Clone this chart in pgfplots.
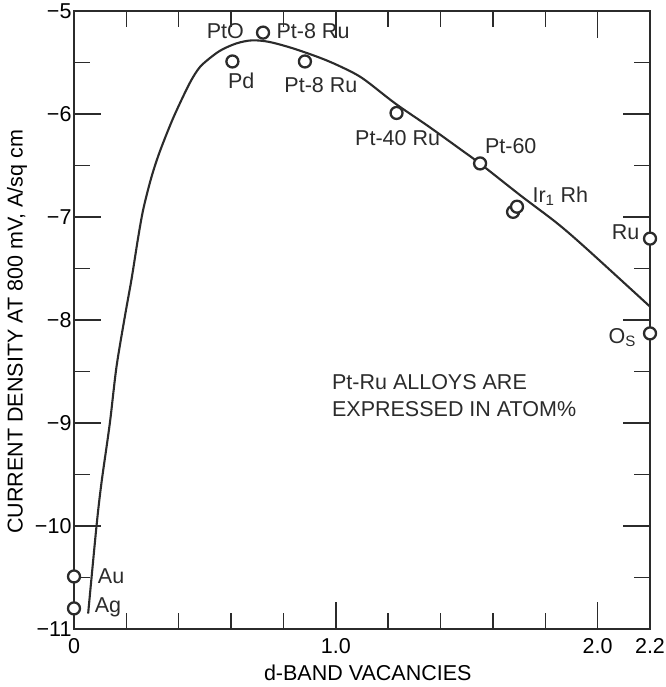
\documentclass[border=0pt]{standalone}
\usepackage{fontspec}
\setmainfont{Liberation Sans}
\usepackage{pgfplots}
\pgfplotsset{compat=1.18}
\definecolor{ink}{HTML}{2B2B2B}

\begin{document}
\begin{tikzpicture}[font=\fontsize{21.5}{27}\selectfont]
\path[use as bounding box] (-74pt,-58pt) rectangle (591pt,629pt);
\begin{axis}[
  at={(0,0)}, anchor=south west,
  scale only axis, width=576pt, height=618pt,
  xmin=0, xmax=2.2, ymin=-11, ymax=-5,
  clip=false,
  axis line style={ink, line width=1.5pt},
  every tick/.style={ink, line width=1.5pt},
  tick align=inside,
  xtick pos=both, ytick pos=both,
  major tick length=27pt, minor tick length=16pt,
  xtick={0,1,2,2.2},
  xticklabels={0,1.0,2.0,2.2},
  minor xtick={0.2,0.4,0.6,0.8,1.2,1.4,1.6,1.8},
  ytick={-11,-10,-9,-8,-7,-6,-5},
  yticklabels={−11,−10,−9,−8,−7,−6,−5},
  minor ytick={-10.5,-9.5,-8.5,-7.5,-6.5,-5.5},
  xticklabel style={yshift=-6pt},
  yticklabel style={xshift=1pt},
  xlabel={d-BAND VACANCIES},
  ylabel={CURRENT DENSITY AT 800 mV, A/sq cm},
  xlabel style={at={(axis description cs:0.51,-0.0712)}, anchor=center},
  ylabel style={at={(axis description cs:-0.0990,0.481)}, anchor=center},
]
% fitted curve
\addplot[ink, line width=2.1pt, smooth] coordinates {
  (0.054,-10.85) (0.086,-10.0) (0.105,-9.58) (0.137,-9.0) (0.162,-8.46)
  (0.194,-7.97) (0.22,-7.6) (0.245,-7.2) (0.265,-6.92) (0.295,-6.62)
  (0.327,-6.37) (0.377,-6.05) (0.43,-5.76) (0.46,-5.62) (0.49,-5.52)
  (0.555,-5.39) (0.62,-5.315) (0.68,-5.285) (0.745,-5.30) (0.833,-5.36)
  (0.935,-5.45) (1.01,-5.53) (1.10,-5.65) (1.228,-5.90) (1.354,-6.12)
  (1.48,-6.35) (1.55,-6.48) (1.71,-6.80) (1.84,-7.05) (1.95,-7.29) (2.2,-7.87)
};
% measured points
\addplot[only marks, mark=*, mark size=6pt,
  mark options={draw=ink, fill=white, line width=2.3pt}] coordinates {
  (0.722,-5.21) (0.605,-5.49) (0.882,-5.49) (1.232,-5.99) (1.551,-6.48)
  (1.677,-6.95) (1.692,-6.90) (2.2,-7.21) (2.2,-8.13) (0,-10.49) (0,-10.80)
};
\node[ink] at (axis cs:0.578,-5.20) {PtO};
\node[ink] at (axis cs:0.913,-5.20) {Pt-8 Ru};
\node[ink] at (axis cs:0.639,-5.68) {Pd};
\node[ink] at (axis cs:0.943,-5.72) {Pt-8 Ru};
\node[ink] at (axis cs:1.236,-6.23) {Pt-40 Ru};
\node[ink] at (axis cs:1.668,-6.31) {Pt-60};
\node[ink, anchor=west] at (axis cs:1.738,-6.80) {Ir\textsubscript{1} Rh};
\node[ink] at (axis cs:2.107,-7.15) {Ru};
\node[ink, anchor=east] at (axis cs:2.16,-8.17) {O\textsubscript{S}};
\node[ink, anchor=west] at (axis cs:0.078,-10.49) {Au};
\node[ink, anchor=west] at (axis cs:0.066,-10.79) {Ag};
\node[ink, anchor=west, align=left, inner sep=0pt] at (axis cs:0.985,-8.735)
  {Pt-Ru ALLOYS ARE\\EXPRESSED IN ATOM\%};
\end{axis}
\end{tikzpicture}
\end{document}
